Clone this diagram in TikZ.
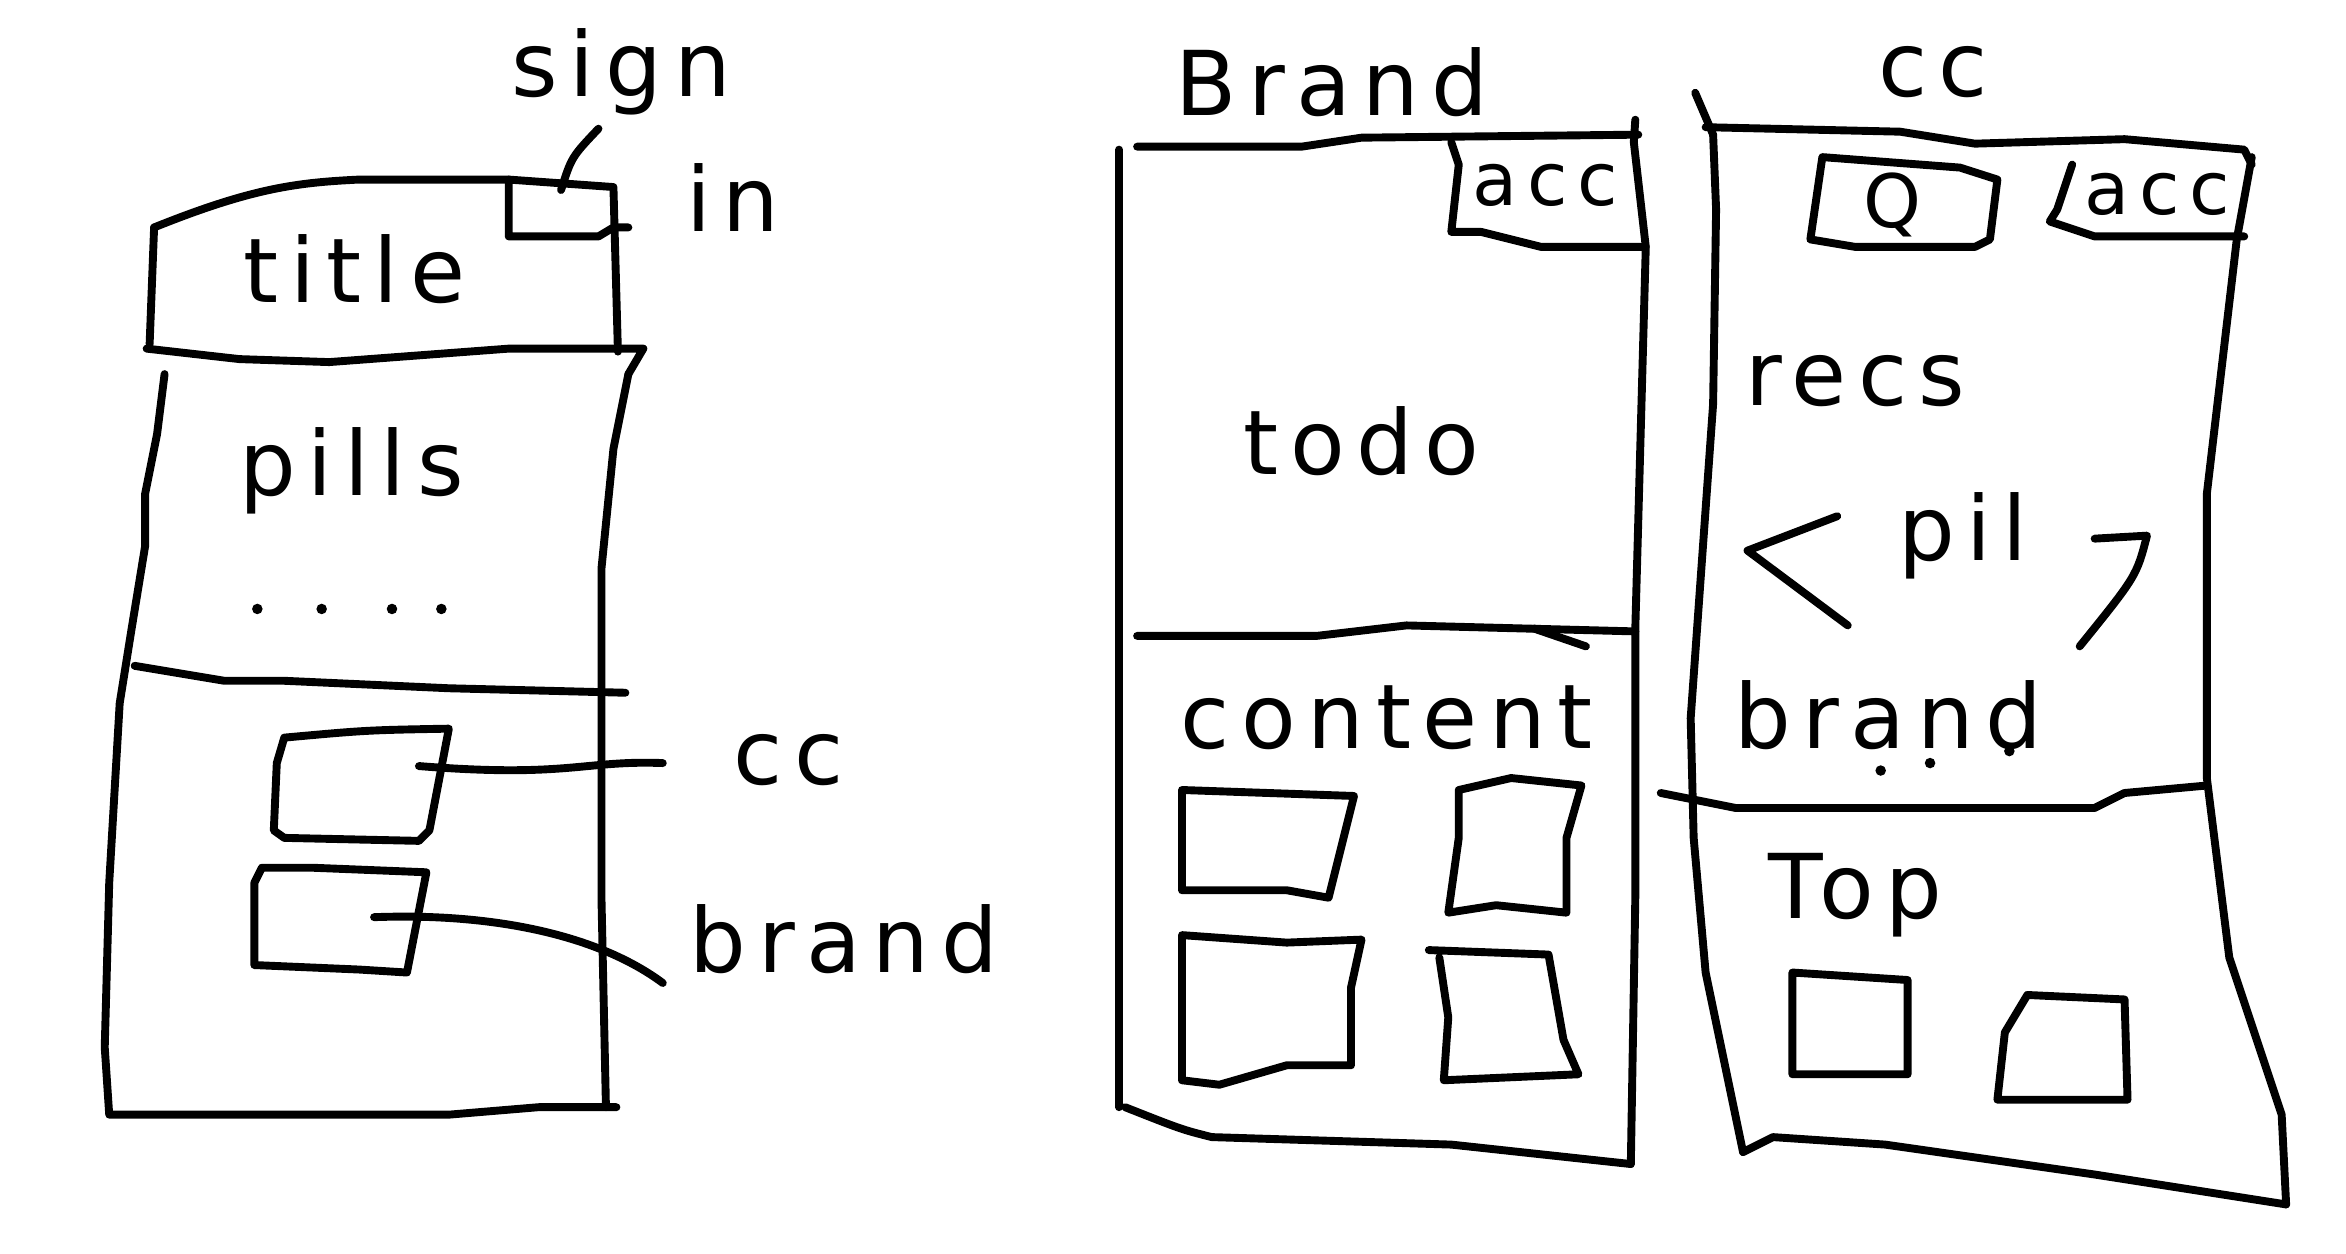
\documentclass[tikz,border=0pt]{standalone}
\usepackage{fontspec}
\newfontfamily\handfont[LetterSpace=13]{DejaVu Sans}
\usetikzlibrary{calc}
\tikzset{
  pen/.style={line width=1.5pt, line cap=round, line join=round},
  hand/.style={font=\handfont\fontsize{17}{20}\selectfont, inner sep=1pt},
  smallhand/.style={font=\handfont\fontsize{14}{17}\selectfont, inner sep=1pt},
}
\begin{document}
\begin{tikzpicture}[x=0.01cm, y=-0.01cm, pen]
			%%%%% START %%%%%
			\useasboundingbox (0,0) rectangle (1568,838);
			
			% left screen: sign in page
			\draw (103,152) .. controls (170,125) and (200,122) .. (240,120) -- (340,120) -- (410,125) -- (413,235);
			\draw (103,152) -- (100,230);
			\draw (98,233) -- (160,240) -- (220,242) -- (340,233) -- (430,233) -- (420,250);
			\draw (110,250) -- (105,290) -- (97,330) -- (97,365) -- (88,420) -- (80,470) -- (73,590) -- (70,700) -- (73,745)
			      -- (300,745) -- (360,740) -- (412,740);
			\draw (420,250) -- (410,300) -- (402,380) -- (402,600) -- (405,740);
			\draw (90,445) -- (150,455) -- (190,455) -- (300,460) -- (418,463);
			\draw (340,120) -- (340,158) -- (400,158) -- (410,152) -- (420,152);
			
			\node[hand] (signlbl) at (415,48) {sign};
			\node[hand] (inlbl) at (490,132) {in};
			\coordinate (signbox) at (375,127);
			\coordinate (signtip) at (400,86);
			\draw (signbox) .. controls (382,105) .. (signtip);
			
			\node[hand] (titlelbl) at (237,180) {title};
			\node[hand] (pillslbl) at (235,315) {pills};
			\foreach \x in {172,215,262,295} \fill (\x,407) circle (1pt);
			
			\draw (190,493) .. controls (245,488) .. (300,487) -- (287,555) -- (280,562) -- (190,560) -- (183,555) -- (185,510) -- cycle;
			\draw (175,580) -- (210,580) -- (285,583) -- (272,650) -- (240,648) -- (170,645) -- (170,590) -- cycle;
			
			\node[hand] (cclbl) at (527,508) {cc};
			\node[hand] (brandlbl) at (564,628) {brand};
			\coordinate (ccin) at (280,512);
			\coordinate (ccend) at (443,510);
			\coordinate (brandin) at (250,613);
			\coordinate (brandend) at (443,657);
			\draw (ccin) .. controls (380,520) and (390,508) .. (ccend);
			\draw (brandin) .. controls (330,610) and (400,625) .. (brandend);
			
			% middle screen: brand page
			\node[hand] (brandtop) at (890,55) {Brand};
			\draw (748,100) -- (748,740);
			\draw (760,98) -- (870,98) -- (910,92) -- (1095,90);
			\draw (970,95) -- (975,110) -- (970,155) -- (990,155) -- (1030,165) -- (1100,165);
			\draw (1093,80) -- (1092,95) -- (1100,165) -- (1093,420) -- (1093,600) -- (1090,778);
			\node[smallhand] (acclbl) at (1033,124) {acc};
			\node[hand] (todolbl) at (910,295) {todo};
			\draw (760,425) -- (880,425) -- (940,418) -- (1093,422);
			\draw (1025,420) -- (1060,432);
			\node[hand] (contentlbl) at (927,480) {content};
			
			\draw (790,528) -- (905,532) -- (888,600) -- (860,595) -- (790,595) -- cycle;
			\draw (975,528) -- (1010,520) -- (1057,525) -- (1047,560) -- (1047,610) -- (1000,605) -- (968,610) -- (975,560) -- cycle;
			\draw (790,625) -- (860,630) -- (910,628) -- (903,660) -- (903,712) -- (860,712) -- (815,725) -- (790,722) -- cycle;
			\draw (955,635) -- (1035,638) -- (1045,695) -- (1055,718) -- (965,722) -- (968,680) -- (962,640);
			\draw (752,740) .. controls (790,755) .. (810,760) -- (970,765) -- (1090,778);
			
			% right screen: cc page
			\node[hand] (cctop) at (1292,48) {cc};
			\draw (1133,62) -- (1145,90) -- (1147,140) -- (1145,270) -- (1130,480) -- (1132,560) -- (1140,650) -- (1165,770);
			\draw (1140,85) -- (1270,88) -- (1320,96) -- (1420,93) -- (1500,100) -- (1505,110);
			\draw (1505,105) -- (1495,160) -- (1475,330) -- (1475,520) -- (1490,640) -- (1525,745) -- (1528,805);
			\draw (1165,770) -- (1185,760) -- (1260,765) -- (1400,785) -- (1528,805);
			
			\draw (1218,105) -- (1310,112) -- (1335,120) -- (1330,160) -- (1320,165) -- (1240,165) -- (1210,160) -- cycle;
			\node[smallhand] (searchlbl) at (1265,137) {Q};
			\draw (1385,110) -- (1375,140) -- (1370,148) -- (1400,158) -- (1500,158);
			\node[smallhand] (acclbl2) at (1442,130) {acc};
			
			\node[hand] (recslbl) at (1240,255) {recs};
			\node[hand] (pillbl) at (1312,358) {pil};
			\draw (1228,345) -- (1168,368) -- (1235,418);
			\draw (1400,360) -- (1435,358) .. controls (1428,385) .. (1390,432);
			\node[hand] (brandlbl2) at (1262,478) {brand};
			\foreach \x/\y in {1257/515,1290/510,1343/502} \fill (\x,\y) circle (1pt);
			\draw (1110,530) -- (1160,540) -- (1400,540) -- (1420,530) -- (1475,525);
			
			\node[hand] (toplbl) at (1240,598) {Top};
			\draw (1198,650) -- (1275,655) -- (1275,718) -- (1198,718) -- cycle;
			\draw (1355,665) -- (1420,668) -- (1422,735) -- (1335,735) -- (1340,690) -- cycle;
			%%%%% END %%%%%
		\end{tikzpicture}
\end{document}
